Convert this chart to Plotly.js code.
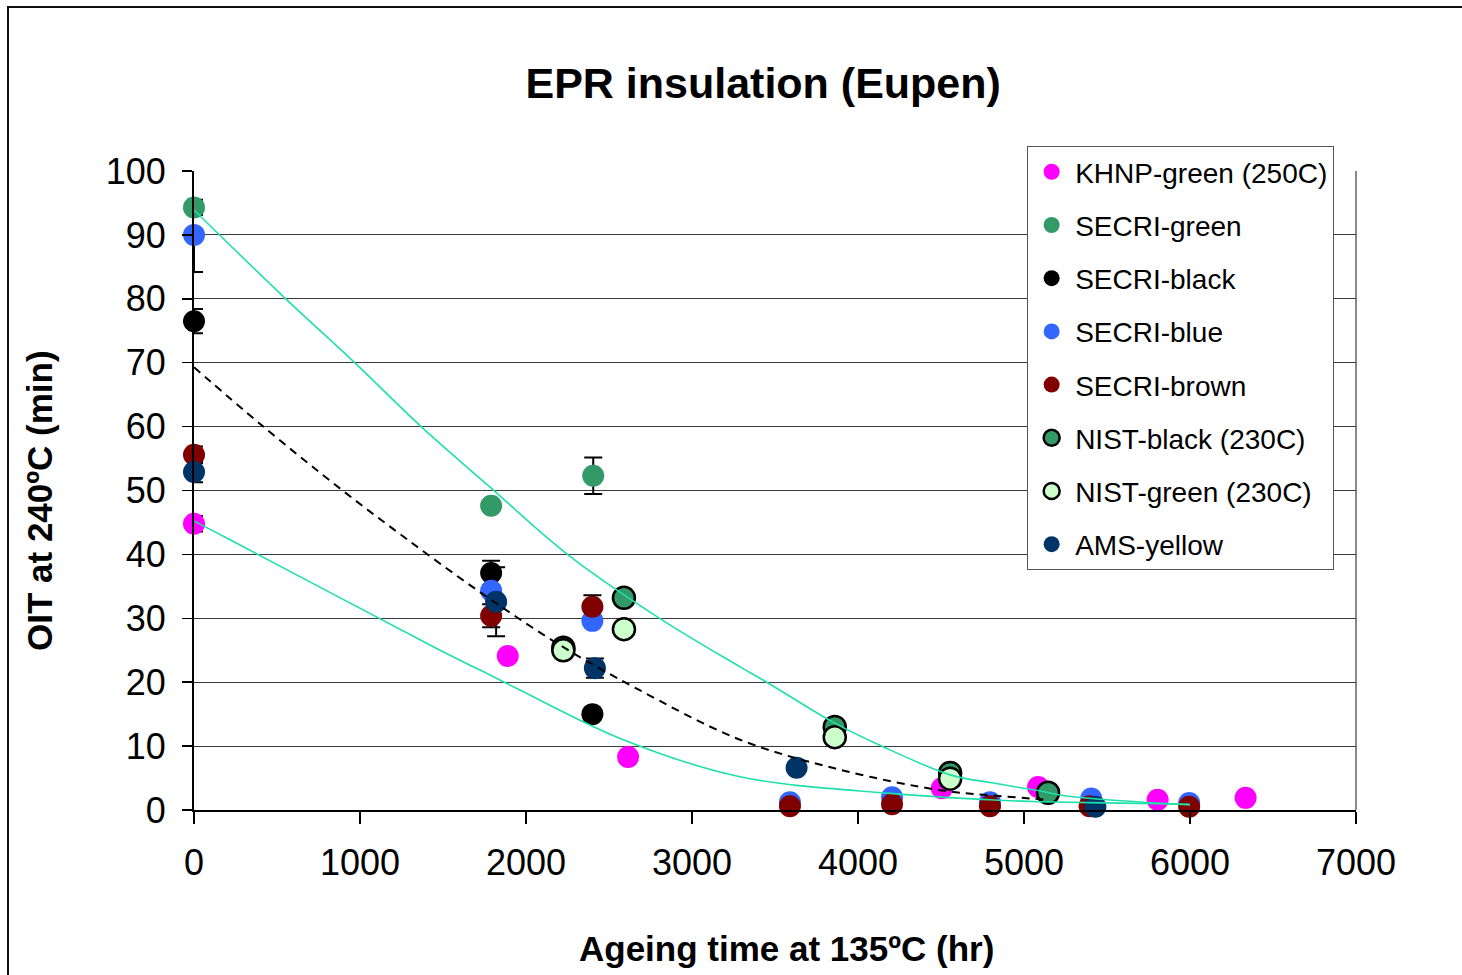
<!DOCTYPE html>
<html>
<head>
<meta charset="utf-8">
<script src="https://cdn.plot.ly/plotly-3.0.1.min.js"></script>
<style>
  html, body { margin: 0; padding: 0; background: #fff; }
  #wrap { position: relative; width: 1462px; height: 975px; overflow: hidden; }
  #chart { position: absolute; left: 0; top: 0; width: 1462px; height: 975px; }
  #frame { position: absolute; left: 7px; top: 6px; width: 1500px; height: 1000px;
           border-left: 2px solid #111; border-top: 2px solid #111; pointer-events: none; }
</style>
</head>
<body>
<div id="wrap"><div id="chart"></div><div id="frame"></div></div>
<script>
// ---- data ----
const seriesNames = ['KHNP-green (250C)', 'SECRI-green', 'SECRI-black', 'SECRI-blue',
                     'SECRI-brown', 'NIST-black (230C)', 'NIST-green (230C)', 'AMS-yellow'];

const khnpX = [0, 1890, 2615, 4505, 5085, 5805, 6335];
const khnpY = [44.8, 24.1, 8.3, 3.4, 3.6, 1.6, 1.9];
const khnpErrPlus = [1.2, 0.5, 0.4, 0, 0, 0, 0];
const khnpErrMinus = [1.2, 0.5, 0.4, 0, 0, 0, 0];

const secriGreenX = [0, 1790, 2405];
const secriGreenY = [94.3, 47.6, 52.3];
const secriGreenErrPlus = [1.2, 0.6, 2.85];
const secriGreenErrMinus = [1.2, 0.6, 2.85];

const secriBlackX = [0, 1790, 2400];
const secriBlackY = [76.5, 37.1, 15.0];
const secriBlackErrPlus = [1.9, 1.9, 0];
const secriBlackErrMinus = [1.9, 1.9, 0];

const secriBlueX = [0, 1790, 2400, 3590, 4205, 4795, 5405, 5995];
const secriBlueY = [90.0, 34.3, 29.6, 1.2, 2.0, 1.2, 1.8, 1.1];
const secriBlueErrPlus = [0.8, 0.6, 0, 0, 0, 0, 0, 0];
const secriBlueErrMinus = [5.8, 0.6, 0, 0, 0, 0, 0, 0];

const secriBrownX = [0, 1790, 2400, 3590, 4205, 4795, 5395, 5995];
const secriBrownY = [55.6, 30.4, 31.8, 0.6, 0.9, 0.6, 0.6, 0.5];
const secriBrownErrPlus = [1.3, 1.8, 1.8, 0, 0, 0, 0, 0];
const secriBrownErrMinus = [1.3, 1.8, 1.8, 0, 0, 0, 0, 0];

const nistBlackX = [2225, 2590, 3860, 4555, 5145];
const nistBlackY = [25.4, 33.2, 13.0, 5.8, 2.7];

const nistGreenX = [2225, 2590, 3860, 4555];
const nistGreenY = [25.0, 28.3, 11.4, 4.9];

const amsX = [0, 1820, 2415, 3630, 5430];
const amsY = [52.9, 32.6, 22.2, 6.6, 0.5];
const amsErrPlus = [1.6, 5.4, 1.5, 0, 0];
const amsErrMinus = [1.6, 5.4, 1.5, 0, 0];

// trend lines
const upperTrendX = [0, 540, 960, 1360, 1780, 2255, 2805, 3290, 3450, 3860, 4135, 4555, 4795, 5095, 5255, 5920, 6000];
const upperTrendY = [93.9, 80.3, 70.2, 60.2, 50.6, 39.9, 30.0, 22.4, 20.0, 13.6, 10.1, 5.5, 4.3, 3.0, 2.2, 0.9, 0.8];

const lowerTrendX = [0, 217, 1482, 1723, 1954, 2586, 3289, 4193, 4795, 5096, 5920, 6000];
const lowerTrendY = [45.2, 42.3, 25.0, 21.9, 18.9, 11.0, 5.2, 2.6, 1.6, 1.3, 0.95, 0.9];

const dashTrendX = [0, 408, 890, 1261, 1723, 2205, 2667, 3289, 3892, 4494, 4795, 5096, 5150];
const dashTrendY = [69.3, 60.2, 50.1, 42.8, 34.1, 25.8, 19.0, 11.0, 6.3, 3.1, 2.3, 1.7, 1.6];

const xTickVals = [0, 1000, 2000, 3000, 4000, 5000, 6000, 7000];
const yTickVals = [0, 10, 20, 30, 40, 50, 60, 70, 80, 90, 100];

const chartTitle = 'EPR insulation (Eupen)';
const xTitle = 'Ageing time at 135ºC (hr)';
const yTitle = 'OIT at 240ºC (min)';

// ---- styling ----
const FONT = 'Liberation Sans, Arial, sans-serif';
const MSIZE = 22;
const errStyle = (plus, minus) => ({type: 'data', symmetric: false, array: plus, arrayminus: minus,
  visible: true, color: '#000', thickness: 2, width: 9});

// error bars drawn first (beneath all markers)
function errTrace(x, y, plus, minus) {
  return {type: 'scatter', mode: 'markers', x: x, y: y, cliponaxis: false, showlegend: false,
          hoverinfo: 'skip', marker: {size: 1, opacity: 0}, error_y: errStyle(plus, minus)};
}

function pts(name, x, y, fill, line) {
  return {
    type: 'scatter', mode: 'markers', name: name, x: x, y: y, cliponaxis: false,
    legendgroup: name,
    marker: {size: MSIZE, color: fill, line: line || {width: 0}}
  };
}

const trendColor = '#1fe0aa';
const data = [
  errTrace(khnpX, khnpY, khnpErrPlus, khnpErrMinus),
  errTrace(secriGreenX, secriGreenY, secriGreenErrPlus, secriGreenErrMinus),
  errTrace(secriBlackX, secriBlackY, secriBlackErrPlus, secriBlackErrMinus),
  errTrace(secriBlueX, secriBlueY, secriBlueErrPlus, secriBlueErrMinus),
  errTrace(secriBrownX, secriBrownY, secriBrownErrPlus, secriBrownErrMinus),
  errTrace(amsX, amsY, amsErrPlus, amsErrMinus),
  pts(seriesNames[0], khnpX, khnpY, '#FF00FF'),
  pts(seriesNames[1], secriGreenX, secriGreenY, '#339966'),
  pts(seriesNames[2], secriBlackX, secriBlackY, '#000000'),
  pts(seriesNames[3], secriBlueX, secriBlueY, '#3366FF'),
  pts(seriesNames[4], secriBrownX, secriBrownY, '#800000'),
  pts(seriesNames[5], nistBlackX, nistBlackY, '#339966', {width: 2.5, color: '#000'}),
  pts(seriesNames[6], nistGreenX, nistGreenY, '#CCFFCC', {width: 2.5, color: '#000'}),
  pts(seriesNames[7], amsX, amsY, '#003366'),
  {type: 'scatter', mode: 'lines', x: upperTrendX, y: upperTrendY, showlegend: false, hoverinfo: 'skip',
   line: {color: trendColor, width: 1.6, shape: 'spline', smoothing: 1}},
  {type: 'scatter', mode: 'lines', x: lowerTrendX, y: lowerTrendY, showlegend: false, hoverinfo: 'skip',
   line: {color: trendColor, width: 1.6, shape: 'spline', smoothing: 1}},
  {type: 'scatter', mode: 'lines', x: dashTrendX, y: dashTrendY, showlegend: false, hoverinfo: 'skip',
   line: {color: '#000', width: 2, dash: '8px,6px', shape: 'spline', smoothing: 1}}
];

const layout = {
  width: 1462, height: 975,
  margin: {l: 194, r: 106, t: 171, b: 165, pad: 0},
  paper_bgcolor: '#fff', plot_bgcolor: '#fff',
  font: {family: FONT, color: '#000'},
  title: {text: chartTitle, font: {family: FONT, size: 43, color: '#000', weight: 'bold'},
          x: 0.522, xref: 'container', xanchor: 'center', y: 0.915, yref: 'container', yanchor: 'middle'},
  xaxis: {
    range: [0, 7000], tickvals: xTickVals, ticktext: xTickVals.map(String),
    showgrid: false, zeroline: false,
    showline: true, linecolor: '#000', linewidth: 2,
    ticks: 'outside', ticklen: 12, tickwidth: 1.5, tickcolor: '#000',
    tickfont: {family: FONT, size: 36, color: '#000'}, ticklabelstandoff: 8,
    automargin: false, fixedrange: true
  },
  yaxis: {
    range: [0, 100], tickvals: yTickVals, ticktext: yTickVals.map(String),
    showgrid: true, gridcolor: '#3a3a3a', gridwidth: 1, zeroline: false,
    showline: true, linecolor: '#000', linewidth: 2,
    ticks: 'outside', ticklen: 10, tickwidth: 1.5, tickcolor: '#000',
    tickfont: {family: FONT, size: 36, color: '#000'}, ticklabelstandoff: 9,
    automargin: false, fixedrange: true
  },
  annotations: [
    {text: xTitle, xref: 'paper', yref: 'paper', x: 0.5095, y: -0.216, xanchor: 'center', yanchor: 'middle',
     showarrow: false, font: {family: FONT, size: 35, color: '#000', weight: 'bold'}},
    {text: yTitle, xref: 'paper', yref: 'paper', x: -0.1325, y: 0.4836, xanchor: 'center', yanchor: 'middle',
     textangle: -90, showarrow: false, font: {family: FONT, size: 35, color: '#000', weight: 'bold'}}
  ],
  legend: {
    x: 0.717, y: 1.039, xanchor: 'left', yanchor: 'top',
    bgcolor: '#fff', bordercolor: '#555', borderwidth: 1,
    font: {family: FONT, size: 28, color: '#000'},
    traceorder: 'grouped', tracegroupgap: 13.8, itemwidth: 37
  },
  shapes: [
    {type: 'line', xref: 'paper', yref: 'paper', x0: 1, x1: 1, y0: 0, y1: 1,
     line: {color: '#8a8a8a', width: 2}, layer: 'below'}
  ],
  showlegend: true
};

Plotly.newPlot('chart', data, layout, {staticPlot: true, displayModeBar: false});
</script>
</body>
</html>
